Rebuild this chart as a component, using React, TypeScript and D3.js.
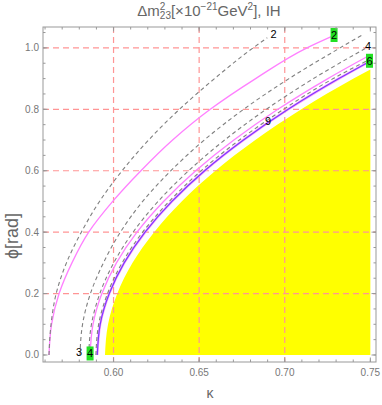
import React from 'react';
import * as d3 from 'd3';

// contour lines, as [kappa, phi] pairs
const dashedA = [[0.5623, 0], [0.5635, 0.1], [0.5665, 0.2], [0.5725, 0.3], [0.5812, 0.4], [0.5918, 0.5], [0.6050, 0.6], [0.6205, 0.7], [0.6385, 0.8], [0.6590, 0.9], [0.6815, 1.0], [0.6898, 1.033]];
const magentaA = [[0.5623, 0], [0.5638, 0.1], [0.5682, 0.2], [0.5757, 0.3], [0.5855, 0.4], [0.5995, 0.5], [0.6160, 0.6], [0.6345, 0.7], [0.6565, 0.8], [0.6830, 0.9], [0.7130, 1.0], [0.7282, 1.039]];
const dashedB = [[0.5804, 0], [0.5819, 0.1], [0.5865, 0.2], [0.5941, 0.3], [0.6040, 0.4], [0.6170, 0.5], [0.6335, 0.6], [0.6530, 0.7], [0.6760, 0.8], [0.7025, 0.9], [0.7323, 1.0], [0.7453, 1.042]];
const dashedC = [[0.5855, 0], [0.5871, 0.1], [0.5920, 0.2], [0.6001, 0.3], [0.6114, 0.4], [0.6260, 0.5], [0.6439, 0.6], [0.6649, 0.7], [0.6892, 0.8], [0.7168, 0.9], [0.7476, 1.0]];
const magentaB = [[0.5863, 0], [0.5880, 0.1], [0.5932, 0.2], [0.6017, 0.3], [0.6137, 0.4], [0.6292, 0.5], [0.6480, 0.6], [0.6703, 0.7], [0.6960, 0.8], [0.7252, 0.9], [0.7480, 0.971]];
const dashedD = [[0.5897, 0], [0.5913, 0.1], [0.5965, 0.2], [0.6050, 0.3], [0.6170, 0.4], [0.6325, 0.5], [0.6512, 0.6], [0.6735, 0.7], [0.6993, 0.8], [0.7283, 0.9], [0.7480, 0.958]];
const purpleLine = [[0.5905, 0], [0.5922, 0.1], [0.5975, 0.2], [0.6062, 0.3], [0.6184, 0.4], [0.6341, 0.5], [0.6532, 0.6], [0.6759, 0.7], [0.7020, 0.8], [0.7316, 0.9], [0.7480, 0.951]];
const yellowEdge = [[0.5950, 0], [0.5968, 0.1], [0.6022, 0.2], [0.6111, 0.3], [0.6237, 0.4], [0.6398, 0.5], [0.6595, 0.6], [0.6828, 0.7], [0.7097, 0.8], [0.7402, 0.9], [0.7500, 0.93]];

// contour labels: [kappa, phi, text]
const blackLabels = [[0.6935, 1.044, '2'], [0.7487, 1.007, '4'], [0.5798, 0.008, '3'], [0.6902, 0.762, '9']];
const greenLabels = [[0.7288, 1.042, '2'], [0.7495, 0.958, '6'], [0.5863, 0.005, '4']];

const xMajor = [0.6, 0.65, 0.7, 0.75];
const yMajor = [0, 0.2, 0.4, 0.6, 0.8, 1.0];
const xGrid = [0.6, 0.65, 0.7];
const yGrid = [0.2, 0.4, 0.6, 0.8, 1.0];

const W = 382;
const H = 405;
const left = 43, right = 376, top = 27, bottom = 362;

const App = () => {
  const x = d3.scaleLinear().domain([0.5588, 0.7533]).range([left, right]);
  const y = d3.scaleLinear().domain([-0.0228, 1.068]).range([bottom, top]);

  const line = d3
    .line<number[]>()
    .x((d) => x(d[0]))
    .y((d) => y(d[1]))
    .curve(d3.curveMonotoneY);

  const area = d3
    .area<number[]>()
    .y((d) => y(d[1]))
    .x0((d) => x(d[0]))
    .x1(x(0.75))
    .curve(d3.curveMonotoneY);

  const xMinor = d3.range(0.56, 0.7531, 0.01);
  const yMinor = d3.range(0, 1.06, 0.05);
  const font = "'Liberation Sans', Arial, sans-serif";
  const tickCol = '#999';
  const gridCol = '#ff9595';

  return (
    <svg width={W} height={H} style={{ position: 'absolute', left: 0, top: 0 }} fontFamily={font}>
      <rect width={W} height={H} fill="#fff" />
      <defs>
        <clipPath id="plot">
          <rect x={left} y={top} width={right - left} height={bottom - top} />
        </clipPath>
      </defs>

      {/* title */}
      <text x={209} y={16} fontSize={15} fill="#666" textAnchor="middle">
        Δm
        <tspan fontSize={10} dy={-6}>2</tspan>
        <tspan fontSize={10} dx={-5.6} dy={9}>23</tspan>
        <tspan dy={-3}>[×10</tspan>
        <tspan fontSize={10} dy={-6}>−21</tspan>
        <tspan dy={6}>GeV</tspan>
        <tspan fontSize={10} dy={-6}>2</tspan>
        <tspan dy={6}>], IH</tspan>
      </text>

      <g clipPath="url(#plot)">
        <path d={area(yellowEdge) || ''} fill="#ffff00" />

        {/* grid */}
        {xGrid.map((v) => (
          <line key={'gx' + v} x1={x(v)} x2={x(v)} y1={top} y2={bottom} stroke={gridCol} strokeWidth={1.2} strokeDasharray="6,4" />
        ))}
        {yGrid.map((v) => (
          <line key={'gy' + v} x1={left} x2={right} y1={y(v)} y2={y(v)} stroke={gridCol} strokeWidth={1.2} strokeDasharray="6,4" />
        ))}

        <path d={line(magentaA) || ''} fill="none" stroke="#ff80ff" strokeWidth={1.3} />
        <path d={line(magentaB) || ''} fill="none" stroke="#ff80ff" strokeWidth={1.3} />
        <path d={line(purpleLine) || ''} fill="none" stroke="#ff9cff" strokeWidth={2.4} />
        <path d={line(purpleLine) || ''} fill="none" stroke="#7b3cff" strokeWidth={1.2} />
        {[dashedA, dashedB, dashedC, dashedD].map((d, i) => (
          <path key={'d' + i} d={line(d) || ''} fill="none" stroke="#808080" strokeWidth={1.1} strokeDasharray="4,3" />
        ))}

        {greenLabels.map((d, i) => (
          <g key={'gl' + i}>
            <rect x={x(d[0] as number) - 3.5} y={y(d[1] as number) - 7} width={7} height={14} fill="#22e022" />
            <text x={x(d[0] as number)} y={y(d[1] as number) + 3.8} fontSize={11} textAnchor="middle" fill="#000">
              {d[2]}
            </text>
          </g>
        ))}
        {blackLabels.map((d, i) => (
          <text key={'bl' + i} x={x(d[0] as number)} y={y(d[1] as number) + 3.8} fontSize={11} textAnchor="middle" fill="#000">
            {d[2]}
          </text>
        ))}
      </g>

      {/* frame */}
      <rect x={left} y={top} width={right - left} height={bottom - top} fill="none" stroke={tickCol} strokeWidth={1} />

      {/* ticks */}
      {xMinor.map((v, i) => (
        <g key={'xm' + i}>
          <line x1={x(v)} x2={x(v)} y1={bottom} y2={bottom - 2.5} stroke={tickCol} />
          <line x1={x(v)} x2={x(v)} y1={top} y2={top + 2.5} stroke={tickCol} />
        </g>
      ))}
      {yMinor.map((v, i) => (
        <g key={'ym' + i}>
          <line x1={left} x2={left + 2.5} y1={y(v)} y2={y(v)} stroke={tickCol} />
          <line x1={right} x2={right - 2.5} y1={y(v)} y2={y(v)} stroke={tickCol} />
        </g>
      ))}
      {xMajor.map((v) => (
        <g key={'xM' + v}>
          <line x1={x(v)} x2={x(v)} y1={bottom} y2={bottom - 4.5} stroke={tickCol} />
          <line x1={x(v)} x2={x(v)} y1={top} y2={top + 4.5} stroke={tickCol} />
          <text x={x(v)} y={bottom + 14} fontSize={10} fill="#777" textAnchor="middle">
            {v.toFixed(2)}
          </text>
        </g>
      ))}
      {yMajor.map((v) => (
        <g key={'yM' + v}>
          <line x1={left} x2={left + 4.5} y1={y(v)} y2={y(v)} stroke={tickCol} />
          <line x1={right} x2={right - 4.5} y1={y(v)} y2={y(v)} stroke={tickCol} />
          <text x={left - 4} y={y(v) + 3.5} fontSize={10} fill="#777" textAnchor="end">
            {v.toFixed(1)}
          </text>
        </g>
      ))}

      {/* axis labels */}
      <text x={210} y={398} fontSize={14} fill="#666" textAnchor="middle">κ</text>
      <text transform="translate(18,236) rotate(-90)" fontSize={18} fill="#666" textAnchor="middle">
        ϕ[rad]
      </text>
    </svg>
  );
};

export default App;
